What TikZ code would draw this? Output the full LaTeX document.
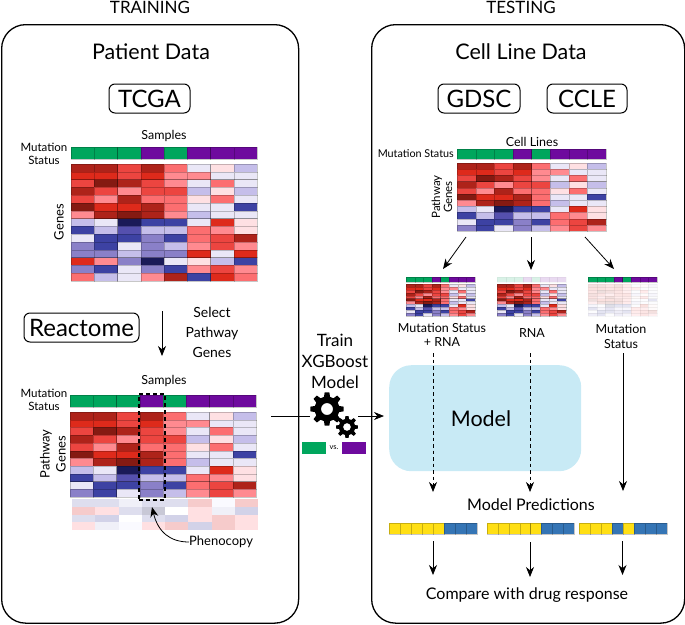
\documentclass[tikz,border=0pt]{standalone}
\usepackage{fontspec}
\setmainfont{Lato}
\usetikzlibrary{arrows.meta}
\definecolor{hma}{HTML}{851A12}
\definecolor{hmb}{HTML}{AE231A}
\definecolor{hmc}{HTML}{DE2A1B}
\definecolor{hmd}{HTML}{EC4540}
\definecolor{hme}{HTML}{FC6E70}
\definecolor{hmf}{HTML}{FF8A90}
\definecolor{hmg}{HTML}{FEE0E3}
\definecolor{hmh}{HTML}{EAE7F7}
\definecolor{hmi}{HTML}{C5BEEA}
\definecolor{hmj}{HTML}{8A80C8}
\definecolor{hmk}{HTML}{5550AE}
\definecolor{hml}{HTML}{3D42A3}
\definecolor{hmm}{HTML}{1A1A58}
\definecolor{hmn}{HTML}{DEDEEE}
\definecolor{hmo}{HTML}{F6CBCB}
\definecolor{hmp}{HTML}{FAFAFF}
\definecolor{hmq}{HTML}{C8C8D6}
\definecolor{hms}{HTML}{FFE0E2}
\definecolor{hmt}{HTML}{D2D2E8}
\definecolor{hmu}{HTML}{FFFFFF}
\definecolor{hmv}{HTML}{F0F0F8}
\definecolor{hmG}{HTML}{00A65D}
\definecolor{hmP}{HTML}{6E0A9E}
\definecolor{hmY}{HTML}{FFDF14}
\definecolor{hmB}{HTML}{3575B5}
\definecolor{modelblue}{HTML}{C8EAF5}
\newcommand{\statusrow}{{G,G,G,P,G,P,P,P}}
\newcommand{\yesnorow}{{Y,Y,Y,Y,Y,B,B,B}}
\newcommand{\mixedrow}{{Y,Y,Y,B,Y,B,B,B}}
\newcommand{\genemap}{{b,b,d,b,e,h,g,i},{c,c,d,c,f,f,h,h},{d,a,b,d,f,h,e,h},{b,d,f,d,d,i,g,i},{d,f,b,e,e,g,e,h},{a,c,c,b,e,h,h,l},{f,b,a,b,f,i,h,h},{i,h,m,l,l,h,c,g},{l,i,k,i,i,e,f,g},{h,l,l,j,l,e,d,b},{j,l,h,j,i,f,d,f},{j,j,i,j,j,c,h,c},{c,f,j,m,h,g,i,l},{j,l,h,j,l,f,d,f},{e,i,h,f,b,l,c,e}}
\newcommand{\pathmap}{{b,b,d,b,e,h,g,i},{c,c,d,c,f,f,h,h},{d,a,b,d,f,h,e,h},{b,d,f,d,d,i,g,i},{d,f,b,e,e,g,e,h},{a,c,c,b,e,h,h,l},{f,b,a,b,e,i,h,h},{i,h,m,l,l,h,c,g},{l,i,k,i,i,e,f,g},{h,l,l,j,l,e,d,b},{j,l,h,j,i,f,d,f}}
\newcommand{\phenomap}{{n,n,v,n,n,o,p,o},{o,s,n,q,u,s,v,t},{n,t,u,n,t,s,o,s},{s,v,p,s,o,t,o,s}}
% name, left, top, width, height, rows, list of rows, opacity, line width
\newcommand{\heatmap}[9]{
	\node[minimum width=#4pt,minimum height=#5pt,inner sep=0pt,anchor=north west] (#1) at (#2,#3) {};
	\begin{scope}[opacity=#8,line width=#9pt]
		\foreach \hmrow [count=\j] in #7
			\foreach \hmcell [count=\i] in \hmrow
				\filldraw[fill=hm\hmcell,hmline] ({#2+(\i-1)*#4/8},{#3+(\j-1)*#5/#6}) rectangle +({#4/8},{#5/#6});
	\end{scope}
}
\newcommand{\gearshape}[3]{
	\begin{scope}[shift={(#1,#2)},scale=#3]
		\fill[even odd rule] (-14:10) \foreach \a in {0,45,...,315} { -- (\a-14:10) -- (\a-8:13.5) -- (\a+8:13.5) -- (\a+14:10) } -- cycle (0,0) circle (4.8);
	\end{scope}
}

\begin{document}
\begin{tikzpicture}[x=1pt,y=-1pt]
	\tikzset{hmline/.style={draw=black,draw opacity=.22}}
	\tikzset{paleline/.style={hmline/.style={draw=black,draw opacity=.03}}}
	\tikzset{panel/.style={draw,line width=1.3pt,rounded corners=24pt}}
	\tikzset{dbname/.style={draw,line width=1pt,rounded corners=6pt,inner xsep=0pt,inner ysep=0pt,font=\fontsize{24}{28}\selectfont}}
	\tikzset{txt/.style 2 args={inner sep=0pt,align=center,font=\fontsize{#1}{#2}\selectfont}}
	\tikzset{conn/.style={line width=.8pt,-{Stealth[length=10pt,width=8pt]}}}
	\tikzset{dashconn/.style={conn,dash pattern=on 3.5pt off 3pt}}
	\useasboundingbox (0,0) rectangle (685,624);
	% panels
	\node[panel,minimum width=297pt,minimum height=598.5pt,anchor=north west] (trainpanel) at (1,24) {};
	\node[panel,minimum width=313pt,minimum height=598.5pt,anchor=north west] (testpanel) at (371,24) {};
	\node[txt={17}{20}] (traintitle) at (150,7) {TRAINING};
	\node[txt={17}{20}] (testtitle) at (521,7) {TESTING};
	\node[txt={21.5}{25}] (patienttitle) at (151,52) {Patient Data};
	\node[txt={21.5}{25}] (celltitle) at (521,52) {Cell Line Data};
	\node[dbname,minimum width=81pt,minimum height=29pt] (tcga) at (149.5,98.5) {TCGA};
	\node[dbname,minimum width=82pt,minimum height=29pt] (gdsc) at (479,98.5) {GDSC};
	\node[dbname,minimum width=80pt,minimum height=29pt] (ccle) at (587,98.5) {CCLE};
	% training side, all genes
	\node[txt={12.5}{15}] (samplestop) at (164,136) {Samples};
	\node[txt={11.5}{12.5}] (statustop) at (44,154) {Mutation\\Status};
	\node[txt={13}{16},rotate=90] (genes) at (59,222) {Genes};
	\heatmap{barone}{71}{147}{186}{12}{1}{\statusrow}{1}{.25}
	\heatmap{mapone}{71}{164}{186}{117}{15}{\genemap}{1}{.25}
	% pathway selection
	\node[dbname,minimum width=115pt,minimum height=29pt] (reactome) at (81.5,327.5) {Reactome};
	\coordinate (selstart) at (162,311);
	\coordinate (selend) at (162,356);
	\draw[conn] (selstart) -- (selend);
	\node[txt={14}{20}] (selectlbl) at (212,332) {Select\\Pathway\\Genes};
	\node[txt={12.5}{15}] (samplespath) at (164,381) {Samples};
	\node[txt={11.5}{12.5}] (statuspath) at (44,400) {Mutation\\Status};
	\node[txt={13}{16},rotate=90] (pathgenes) at (53,454) {Pathway\\Genes};
	\heatmap{bartwo}{70}{395}{186}{12}{1}{\statusrow}{1}{.25}
	\heatmap{maptwo}{70}{412}{186}{85}{11}{\pathmap}{1}{.25}
	\begin{scope}[hmline/.style={draw=none}]
		\heatmap{phenorows}{72}{499}{186}{31}{4}{\phenomap}{1}{.4}
	\end{scope}
	\node[draw,line width=1.5pt,dash pattern=on 4pt off 3pt,minimum width=26pt,minimum height=106pt,anchor=north west] (phenobox) at (138,393) {};
	\node[txt={13}{16},anchor=west] (phenolbl) at (189,542) {Phenocopy};
	\coordinate (phenotip) at (152,507);
	\draw[conn] (phenolbl.west) .. controls (170,542) and (158,532) .. (phenotip);
	% middle, train step
	\node[txt={17}{21}] (trainlbl) at (335,361) {Train\\XGBoost\\Model};
	\gearshape{327}{409}{1.25}
	\gearshape{347}{427}{.82}
	\coordinate (trainstart) at (271,416);
	\coordinate (gearin) at (310,416);
	\coordinate (gearout) at (358,416);
	\coordinate (modelin) at (384,416);
	\draw[line width=.8pt] (trainstart) -- (gearin);
	\draw[conn] (gearout) -- (modelin);
	\node[fill=hmG,minimum width=24pt,minimum height=12pt,inner sep=0pt] (greenkey) at (314,448) {};
	\node[txt={7.5}{9}] (vslbl) at (334,448) {vs.};
	\node[fill=hmP,minimum width=24pt,minimum height=12pt,inner sep=0pt] (purplekey) at (354,448) {};
	% testing side
	\node[txt={12.5}{15}] (celllines) at (532,142) {Cell Lines};
	\node[txt={10.8}{13},anchor=east] (statuscell) at (454,154) {Mutation Status};
	\node[txt={11.5}{12},rotate=90] (cellgenes) at (442,197) {Pathway\\Genes};
	\heatmap{barcell}{457}{149}{149}{10}{1}{\statusrow}{1}{.25}
	\heatmap{mapcell}{457}{163}{149}{68}{11}{\pathmap}{1}{.25}
	\coordinate (splitl) at (466,237);
	\coordinate (splitm) at (531,237);
	\coordinate (splitr) at (585,237);
	\heatmap{barboth}{406}{277}{69}{5}{1}{\statusrow}{1}{.12}
	\heatmap{mapboth}{406}{284}{69}{32}{11}{\pathmap}{1}{.12}
	\begin{scope}[paleline]
		\heatmap{barrna}{497}{277}{69}{5}{1}{\statusrow}{.15}{.12}
	\end{scope}
	\heatmap{maprna}{497}{284}{69}{32}{11}{\pathmap}{1}{.12}
	\heatmap{barmut}{588}{277}{69}{5}{1}{\statusrow}{1}{.12}
	\begin{scope}[paleline]
		\heatmap{mapmut}{588}{284}{69}{32}{11}{\pathmap}{.14}{.12}
	\end{scope}
	\coordinate (tipl) at (443,269);
	\coordinate (tipm) at (531,270);
	\coordinate (tipr) at (614,269);
	\draw[conn] (splitl) -- (tipl);
	\draw[conn] (splitm) -- (tipm);
	\draw[conn] (splitr) -- (tipr);
	\node[txt={12.5}{14.5}] (bothlbl) at (442,335) {Mutation Status\\+ RNA};
	\node[txt={12.5}{14.5}] (rnalbl) at (532,333) {RNA};
	\node[txt={12.5}{15}] (mutlbl) at (621,336.5) {Mutation\\Status};
	\node[fill=modelblue,rounded corners=22pt,minimum width=192pt,minimum height=106pt,anchor=north west] (model) at (389,365) {};
	\node[txt={21.5}{26}] (modellbl) at (481,419) {Model};
	\node[txt={16}{19}] (predlbl) at (531,505) {Model Predictions};
	\coordinate (bothtop) at (433,353);
	\coordinate (rnatop) at (530,353);
	\coordinate (muttop) at (623,353);
	\coordinate (bothend) at (433,492);
	\coordinate (rnaend) at (530,492);
	\coordinate (mutend) at (623,491);
	\draw[dashconn] (bothtop) -- (bothend);
	\draw[dashconn] (rnatop) -- (rnaend);
	\draw[conn] (muttop) -- (mutend);
	% predictions
	\heatmap{predboth}{389}{523}{88}{11}{1}{\yesnorow}{1}{.25}
	\heatmap{predrna}{487}{523}{87}{11}{1}{\yesnorow}{1}{.25}
	\heatmap{predmut}{579}{523}{88}{11}{1}{\mixedrow}{1}{.25}
	\coordinate (cmpl) at (433,575);
	\coordinate (cmpm) at (530,577);
	\coordinate (cmpr) at (622.5,575);
	\coordinate (predl) at (433,541);
	\coordinate (predm) at (530,542);
	\coordinate (predr) at (622.5,541);
	\draw[conn] (predl) -- (cmpl);
	\draw[conn] (predm) -- (cmpm);
	\draw[conn] (predr) -- (cmpr);
	\node[txt={16}{19}] (comparelbl) at (527,595) {Compare with drug response};
\end{tikzpicture}
\end{document}
